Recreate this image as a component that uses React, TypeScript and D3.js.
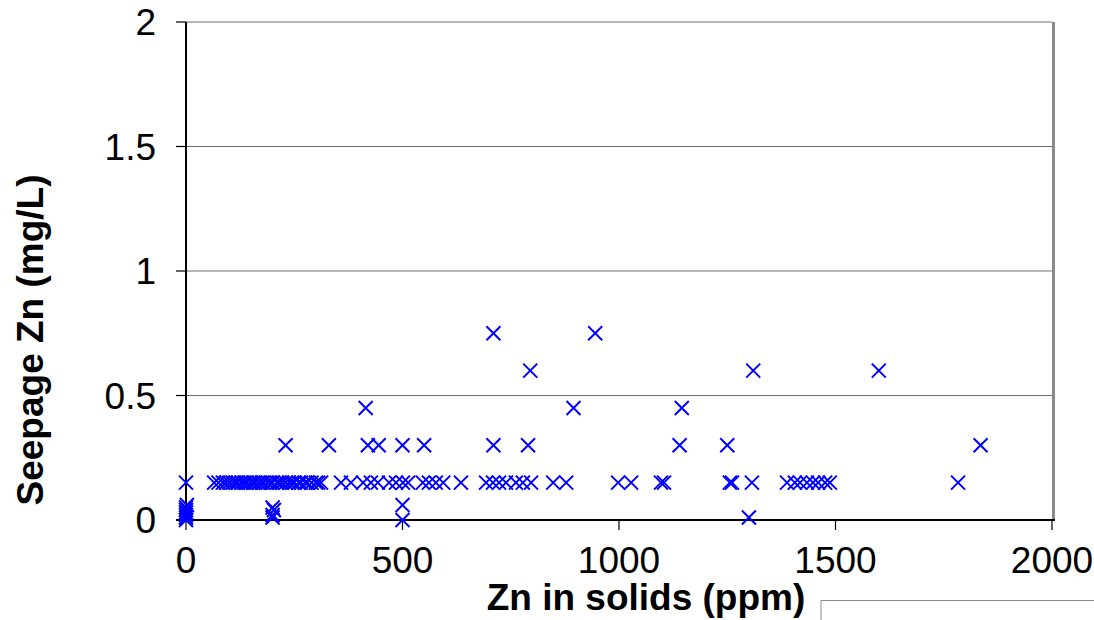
import React from "react";
import * as d3 from "d3";

// Zn in solids (ppm) for samples at each seepage Zn level (mg/L)
const solidsAt075 = [710, 945];
const solidsAt060 = [795, 1310, 1600];
const solidsAt045 = [415, 895, 1145];
const solidsAt030 = [230, 330, 420, 445, 500, 550, 710, 790, 1140, 1250, 1835];
const solidsAt015 = [
  0, 65, 75, 85, 92, 100, 108, 115, 120, 128, 135, 140, 148, 155, 160, 168, 175,
  180, 188, 195, 200, 210, 215, 222, 230, 238, 245, 250, 260, 265, 275, 280, 290,
  300, 305, 312, 358, 381, 409, 427, 443, 469, 485, 501, 513, 547, 561, 577, 594,
  635, 693, 709, 723, 739, 762, 778, 797, 848, 878, 998, 1028, 1097, 1104, 1256,
  1261, 1307, 1388, 1406, 1418, 1434, 1448, 1460, 1476, 1487, 1783,
];

// Low-concentration samples: solids Zn and seepage Zn paired by index
const lowSolids = [0, 0, 0, 0, 0, 0, 2, 200, 200, 203, 200, 500, 500, 1300];
const lowSeepage = [0, 0.01, 0.02, 0.03, 0.04, 0.05, 0.06, 0.01, 0.02, 0.04, 0.05, 0, 0.06, 0.01];

const xTicks = [0, 500, 1000, 1500, 2000];
const yTicks = [0, 0.5, 1, 1.5, 2];

const points: { x: number; y: number }[] = [
  ...solidsAt075.map((x) => ({ x, y: 0.75 })),
  ...solidsAt060.map((x) => ({ x, y: 0.6 })),
  ...solidsAt045.map((x) => ({ x, y: 0.45 })),
  ...solidsAt030.map((x) => ({ x, y: 0.3 })),
  ...solidsAt015.map((x) => ({ x, y: 0.15 })),
  ...lowSolids.map((x, i) => ({ x, y: lowSeepage[i] })),
];

const W = 1094;
const H = 620;
const left = 186;
const right = 1052;
const top = 22;
const bottom = 520;

export default function App() {
  const x = d3.scaleLinear().domain([0, 2000]).range([left, right]);
  const y = d3.scaleLinear().domain([0, 2]).range([bottom, top]);
  const m = 7;
  const font = "'Liberation Sans', Arial, sans-serif";

  return (
    <svg
      width={W}
      height={H}
      style={{ position: "absolute", left: 0, top: 0, background: "#fff" }}
    >
      {/* horizontal gridlines */}
      {yTicks
        .filter((t) => t > 0)
        .map((t) => (
          <line
            key={"g" + t}
            x1={left}
            x2={right}
            y1={y(t)}
            y2={y(t)}
            stroke="#6e6e6e"
            strokeWidth={1.2}
          />
        ))}
      {/* right frame */}
      <line x1={right + 1.5} x2={right + 1.5} y1={top} y2={bottom} stroke="#8a8a8a" strokeWidth={3} />

      {/* y axis */}
      <line x1={left} x2={left} y1={top} y2={bottom} stroke="#000" strokeWidth={2} />
      {yTicks.map((t) => (
        <g key={"yt" + t}>
          <line x1={left - 10} x2={left} y1={y(t)} y2={y(t)} stroke="#000" strokeWidth={1.2} />
          <text
            x={156}
            y={y(t)}
            dy="0.36em"
            textAnchor="end"
            fontFamily={font}
            fontSize={37}
            fill="#000"
          >
            {t}
          </text>
        </g>
      ))}

      {/* x axis */}
      <line x1={left - 10} x2={right + 3} y1={bottom} y2={bottom} stroke="#000" strokeWidth={2} />
      {xTicks.map((t) => (
        <g key={"xt" + t}>
          <line x1={x(t)} x2={x(t)} y1={bottom} y2={bottom + 10} stroke="#000" strokeWidth={1.2} />
          <text
            x={x(t)}
            y={573}
            textAnchor="middle"
            fontFamily={font}
            fontSize={37}
            fill="#000"
          >
            {t}
          </text>
        </g>
      ))}

      {/* data markers */}
      {points.map((p, i) => {
        const cx = x(p.x);
        const cy = y(p.y);
        return (
          <path
            key={i}
            d={`M${cx - m},${cy - m}L${cx + m},${cy + m}M${cx - m},${cy + m}L${cx + m},${cy - m}`}
            stroke="#0000ff"
            strokeWidth={2}
            fill="none"
          />
        );
      })}

      {/* axis titles */}
      <text
        x={646}
        y={610}
        textAnchor="middle"
        fontFamily={font}
        fontSize={37}
        fontWeight="bold"
        fill="#000"
      >
        Zn in solids (ppm)
      </text>
      <text
        transform="translate(43,340) rotate(-90)"
        textAnchor="middle"
        fontFamily={font}
        fontSize={37}
        fontWeight="bold"
        fill="#000"
      >
        Seepage Zn (mg/L)
      </text>

      {/* frame corner at lower right */}
      <path d={`M821,${H}V600.5H${W}`} stroke="#8a8a8a" strokeWidth={1} fill="none" />
    </svg>
  );
}
